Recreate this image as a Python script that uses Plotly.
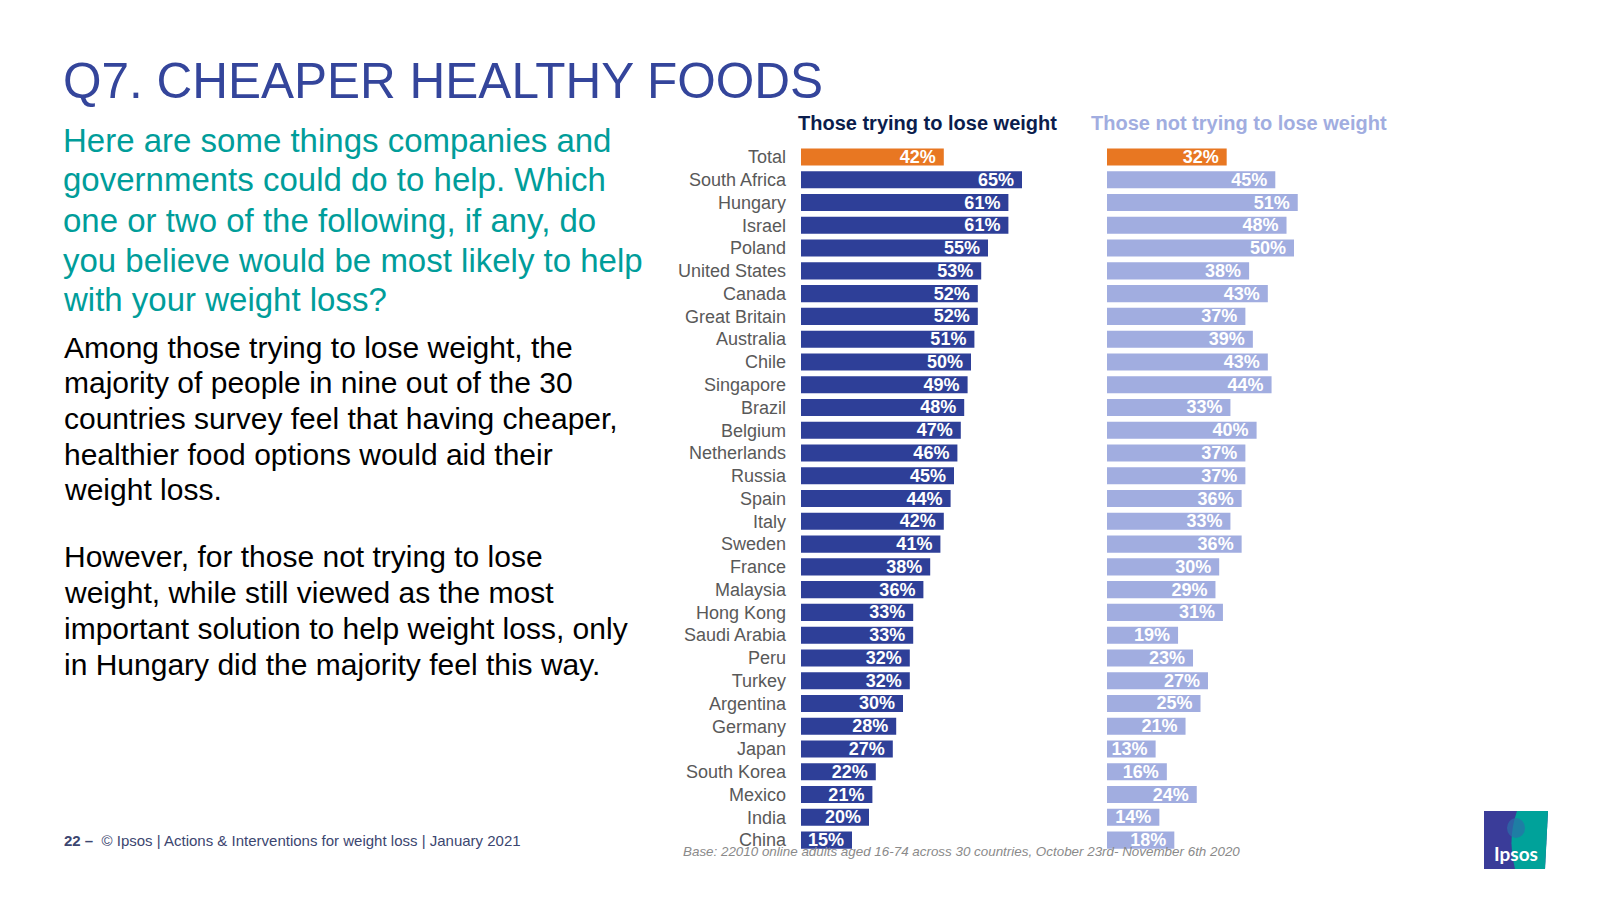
import plotly.graph_objects as go

countries = ["Total", "South Africa", "Hungary", "Israel", "Poland", "United States", "Canada",
             "Great Britain", "Australia", "Chile", "Singapore", "Brazil", "Belgium", "Netherlands",
             "Russia", "Spain", "Italy", "Sweden", "France", "Malaysia", "Hong Kong", "Saudi Arabia",
             "Peru", "Turkey", "Argentina", "Germany", "Japan", "South Korea", "Mexico", "India", "China"]
trying = [42, 65, 61, 61, 55, 53, 52, 52, 51, 50, 49, 48, 47, 46, 45, 44, 42, 41, 38, 36, 33, 33,
          32, 32, 30, 28, 27, 22, 21, 20, 15]
not_trying = [32, 45, 51, 48, 50, 38, 43, 37, 39, 43, 44, 33, 40, 37, 37, 36, 33, 36, 30, 29, 31, 19,
              23, 27, 25, 21, 13, 16, 24, 14, 18]

title = "Q7. CHEAPER HEALTHY FOODS"
question_lines = ["Here are some things companies and",
                  "governments could do to help. Which",
                  "one or two of the following, if any, do",
                  "you believe would be most likely to help",
                  "with your weight loss?"]
para1_lines = ["Among those trying to lose weight, the",
               "majority of people in nine out of the 30",
               "countries survey feel that having cheaper,",
               "healthier food options would aid their",
               "weight loss."]
para2_lines = ["However, for those not trying to lose",
               "weight, while still viewed as the most",
               "important solution to help weight loss, only",
               "in Hungary did the majority feel this way."]
header_left = "Those trying to lose weight"
header_right = "Those not trying to lose weight"
footer = "<b>22 –</b>  © Ipsos | Actions & Interventions for weight loss | January 2021"
base_note = "Base: 22010 online adults aged 16-74 across 30 countries, October 23rd- November 6th 2020"

W, H = 1600, 900
FONT = "Liberation Sans, Arial, sans-serif"
NAVY = "#2e3f98"
LIGHT = "#a1ade0"
ORANGE = "#e87722"
TEAL = "#009d9a"


def px(x):
    return x / W


def py(y):
    return 1 - y / H


left_colors = [ORANGE] + [NAVY] * (len(countries) - 1)
right_colors = [ORANGE] + [LIGHT] * (len(countries) - 1)

fig = go.Figure()
fig.add_trace(go.Bar(
    y=countries, x=trying, orientation="h", xaxis="x", yaxis="y",
    marker=dict(color=left_colors, line=dict(width=0)),
    text=[f"{v}%\u00a0" for v in trying], textposition="inside", insidetextanchor="end",
    textfont=dict(family=FONT, size=18, color="white", weight="bold"),
    hoverinfo="skip", showlegend=False,
))
fig.add_trace(go.Bar(
    y=countries, x=not_trying, orientation="h", xaxis="x2", yaxis="y",
    marker=dict(color=right_colors, line=dict(width=0)),
    text=[f"{v}%\u00a0" for v in not_trying], textposition="inside", insidetextanchor="end",
    textfont=dict(family=FONT, size=18, color="white", weight="bold"),
    hoverinfo="skip", showlegend=False,
))

row_top, row_h, n = 157.0, 22.77, len(countries)
y_top = row_top - row_h / 2
y_bot = y_top + row_h * n

annotations = []


def note(text, x, y, size, color, xanchor="left", family=FONT):
    annotations.append(dict(text=text, x=px(x), y=py(y), xref="paper", yref="paper",
                            xanchor=xanchor, yanchor="middle", showarrow=False,
                            font=dict(family=family, size=size, color=color)))


note(title, 61, 80, 49.5, "#34459b")
for i, line in enumerate(question_lines):
    note(line, 61, 140 + 40 * i, 33, TEAL)
for i, line in enumerate(para1_lines):
    note(line, 62, 347 + 35.7 * i, 30, "#000000")
for i, line in enumerate(para2_lines):
    note(line, 62, 556 + 36 * i, 30, "#000000")
note(f"<b>{header_left}</b>", 927, 123, 20, "#0b1d4d", xanchor="center")
note(f"<b>{header_right}</b>", 1239, 123, 20, LIGHT, xanchor="center")
note(footer, 62, 840, 15, "#3c4670")
note(f"<i>{base_note}</i>", 681, 851, 13.4, "#8a8a8a")
note("<b>Ipsos</b>", 1516, 853, 19, "white", xanchor="center", family="Lato, " + FONT)

shapes = [
    dict(type="path", xref="paper", yref="paper",
         path=f"M {px(1484)},{py(811)} L {px(1548)},{py(811)} L {px(1545)},{py(869)} L {px(1484)},{py(869)} Z",
         fillcolor="#3a3c99", line=dict(width=0), layer="above"),
    dict(type="path", xref="paper", yref="paper",
         path=(f"M {px(1517)},{py(811)} L {px(1548)},{py(811)} L {px(1545)},{py(869)} L {px(1515)},{py(869)} "
               f"Q {px(1507)},{py(840)} {px(1517)},{py(811)} Z"),
         fillcolor="#00a29a", line=dict(width=0), layer="above"),
    dict(type="circle", xref="paper", yref="paper",
         x0=px(1507), x1=px(1525), y0=py(838), y1=py(818),
         fillcolor="#2b6fa8", line=dict(width=0), layer="above", opacity=0.7),
]

fig.update_layout(
    width=W, height=H, margin=dict(l=0, r=0, t=0, b=0),
    paper_bgcolor="white", plot_bgcolor="white",
    bargap=0.25,
    xaxis=dict(domain=[px(801), px(801 + 3.4 * 70)], range=[0, 70], visible=False, fixedrange=True),
    xaxis2=dict(domain=[px(1107), px(1107 + 3.74 * 70)], range=[0, 70], visible=False,
                anchor="y", fixedrange=True),
    yaxis=dict(domain=[py(y_bot), py(y_top)], autorange="reversed", type="category",
               showgrid=False, zeroline=False, showline=False, ticks="",
               ticklabelstandoff=14,
               tickfont=dict(family=FONT, size=18, color="#595959"), fixedrange=True),
    uniformtext=dict(minsize=18, mode="show"),
    annotations=annotations,
    shapes=shapes,
)

fig.write_html("out.html")
